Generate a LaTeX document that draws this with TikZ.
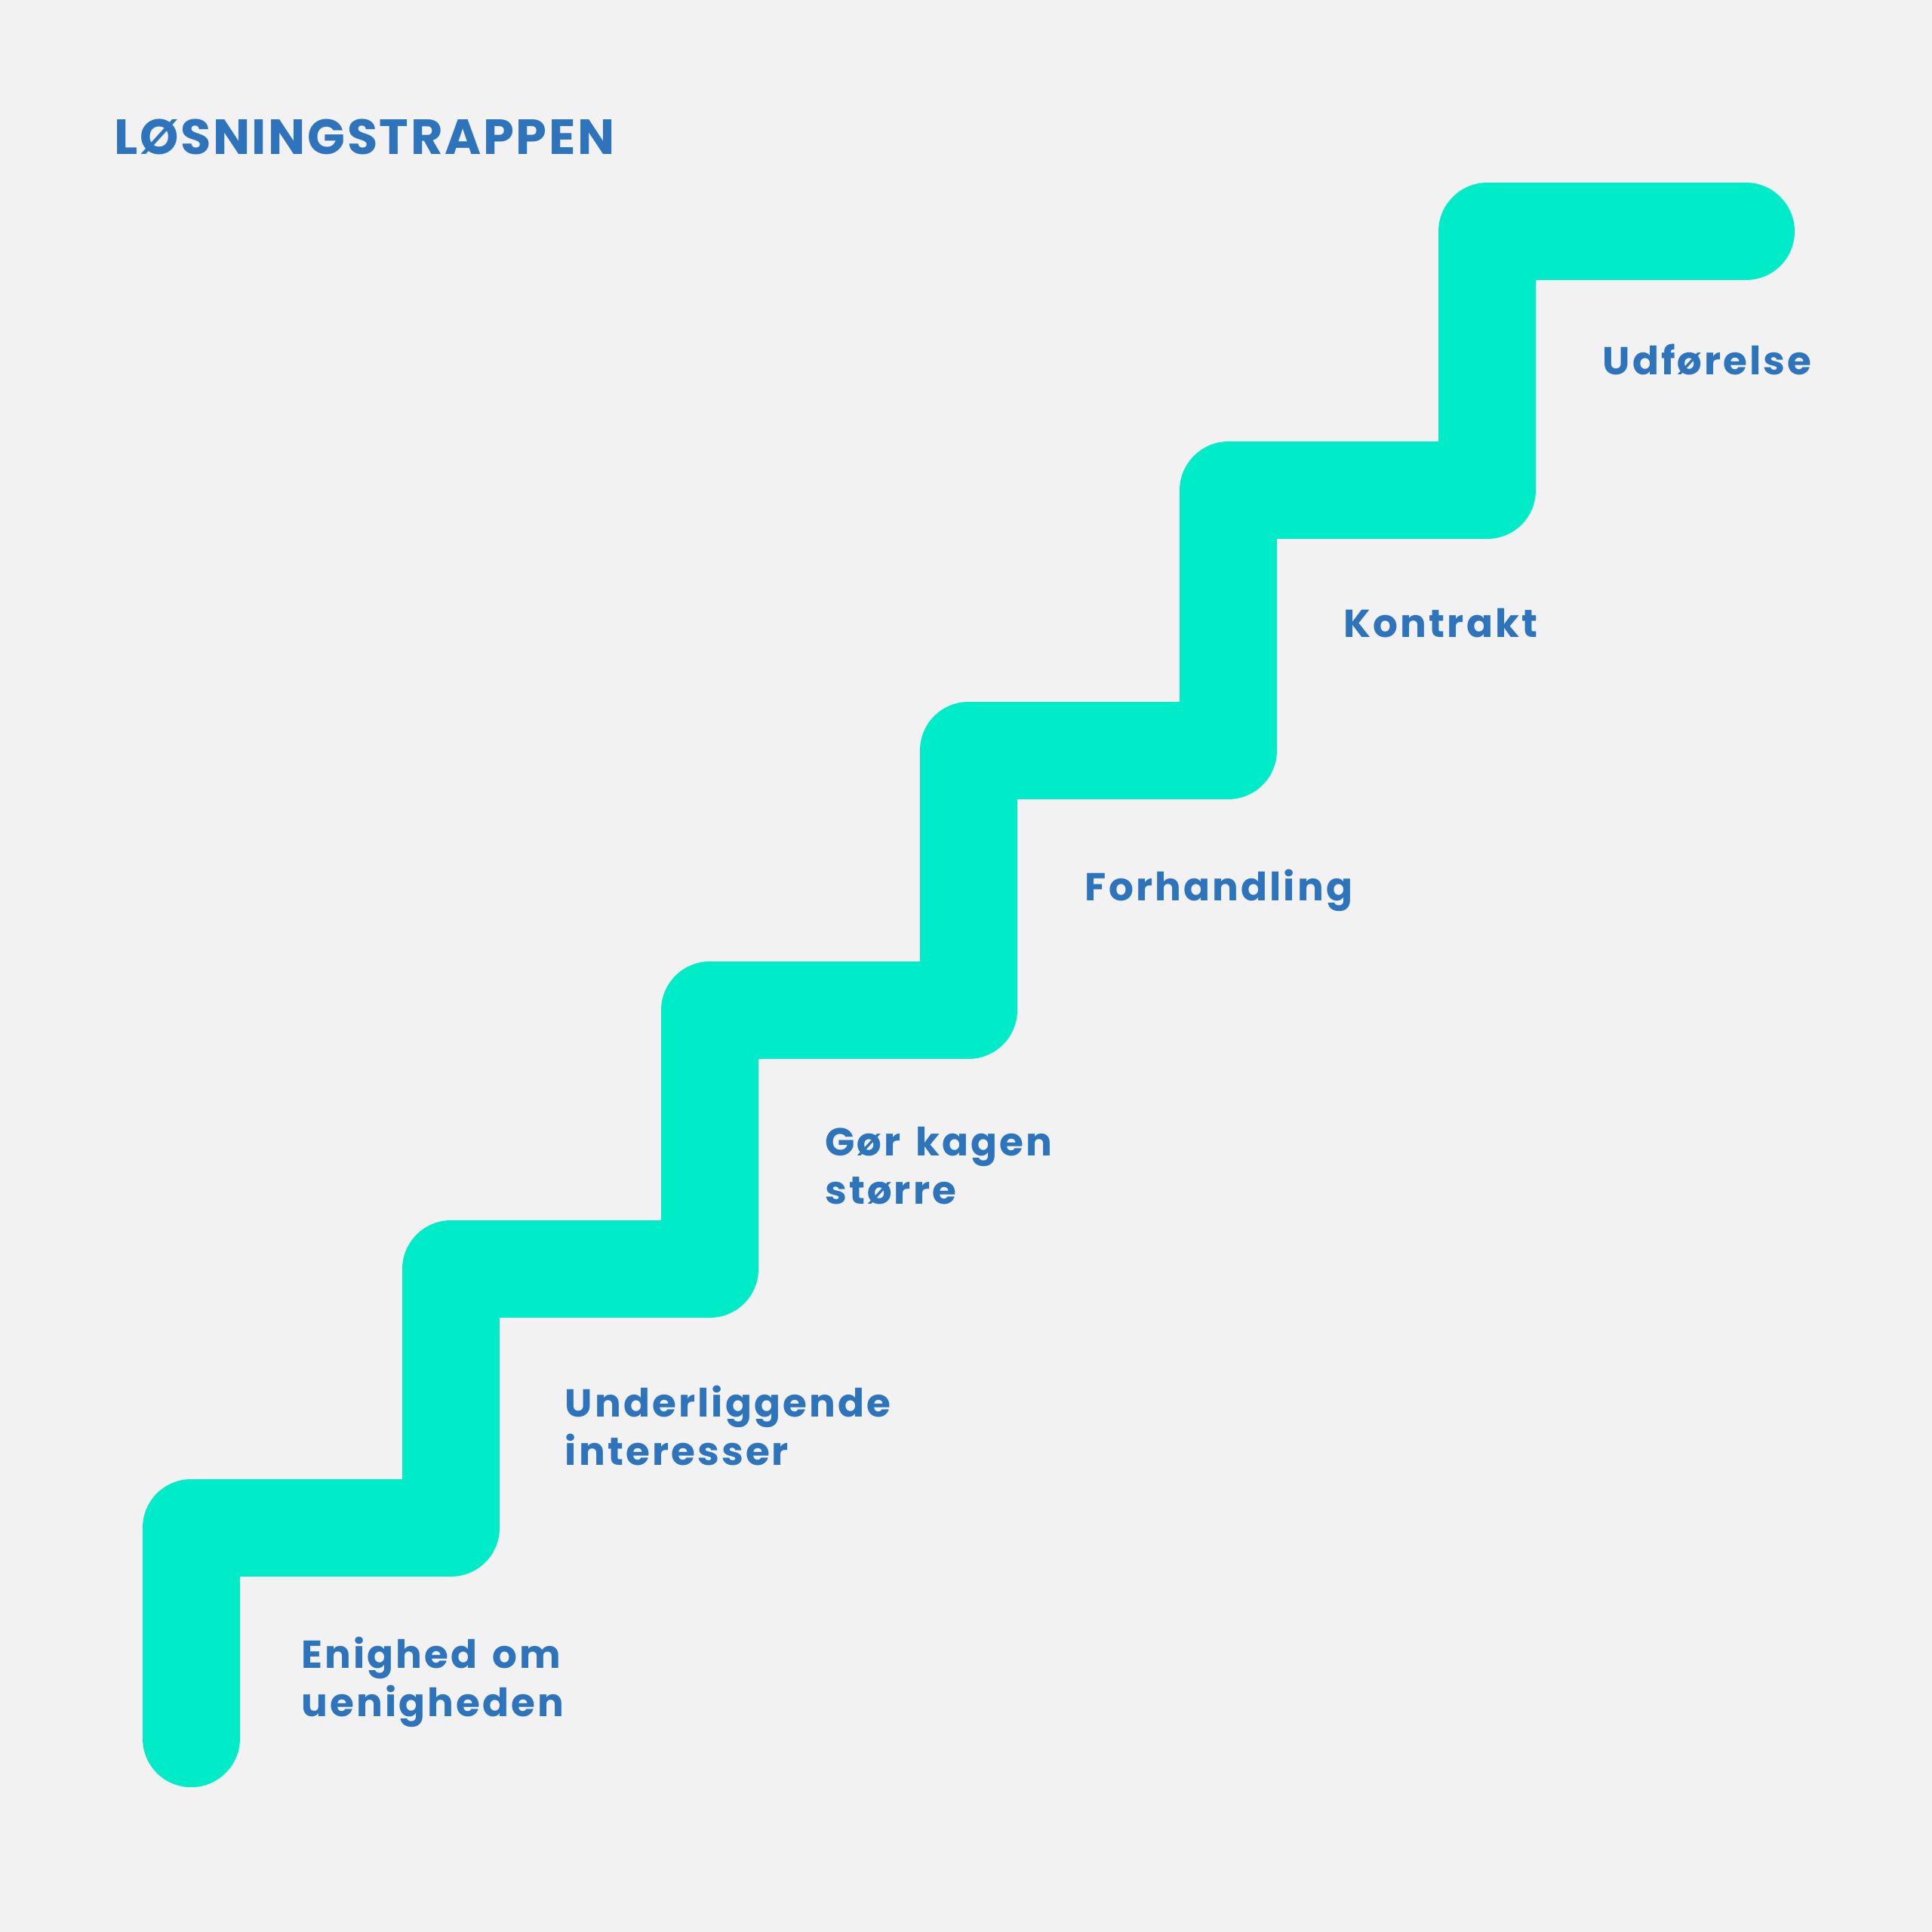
\documentclass[tikz,border=0pt]{standalone}
\usepackage{fontspec}
\usepackage{tikz}
\usetikzlibrary{positioning}
\newfontfamily\stairfont{Poppins}[LetterSpace=6, WordSpace=1.4]
\newfontfamily\headfont{Poppins}[LetterSpace=4]
\definecolor{paper}{HTML}{F2F2F2}
\definecolor{stairgreen}{HTML}{00EBC7}
\definecolor{stepblue}{HTML}{2E74BC}
\tikzset{
    stair/.style={draw=stairgreen, line width=7.9mm, line cap=round, line join=round},
    steplabel/.style={font=\stairfont\bfseries\fontsize{9}{11.1}\selectfont, text=stepblue, anchor=base west, align=left, inner sep=0pt},
    heading/.style={font=\headfont\bfseries\fontsize{11.4}{13}\selectfont, text=stepblue, anchor=base west, inner sep=0pt},
}
\begin{document}
\begin{tikzpicture}[x=0.1mm, y=-0.1mm]
    \fill[paper] (0,0) rectangle (1568,1568);
    \node [heading] (title) at (92,125) {LØSNINGSTRAPPEN};
    % corners of the stair
    \coordinate (s0) at (155,1411);
    \coordinate (s1) at (155,1240);
    \coordinate (s2) at (366,1240);
    \coordinate (s3) at (366,1030);
    \coordinate (s4) at (576,1030);
    \coordinate (s5) at (576,820);
    \coordinate (s6) at (786,820);
    \coordinate (s7) at (786,609);
    \coordinate (s8) at (997,609);
    \coordinate (s9) at (997,398);
    \coordinate (s10) at (1207,398);
    \coordinate (s11) at (1207,188);
    \coordinate (s12) at (1417,188);
    \draw [stair] (s0) -- (s1) -- (s2) -- (s3) -- (s4) -- (s5) -- (s6)
        -- (s7) -- (s8) -- (s9) -- (s10) -- (s11) -- (s12);
    % step labels (base = last line)
    \node [steplabel] (enighed) at (244,1393) {Enighed om\\uenigheden};
    \node [steplabel] (interesser) at (458,1189) {Underliggende\\interesser};
    \node [steplabel] (kagen) at (669,977) {Gør kagen\\større};
    \node [steplabel] (forhandling) at (880,731) {Forhandling};
    \node [steplabel] (kontrakt) at (1090,517) {Kontrakt};
    \node [steplabel] (udfoerelse) at (1300,304) {Udførelse};
\end{tikzpicture}
\end{document}
